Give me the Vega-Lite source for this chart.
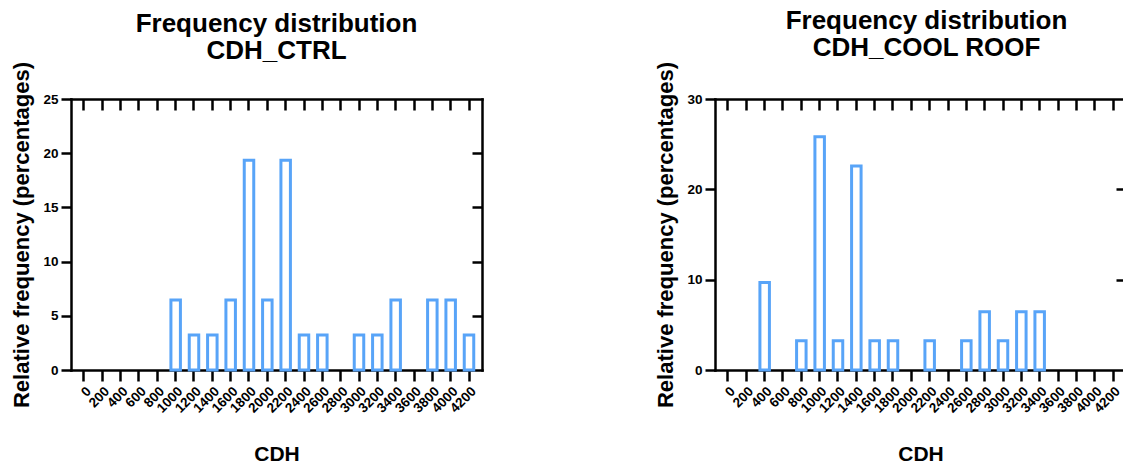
{
  "$schema": "https://vega.github.io/schema/vega-lite/v6.json",
  "padding": {"left": 10, "top": 7, "right": 0, "bottom": 0},
  "spacing": 170,
  "config": {
    "font": "Liberation Sans",
    "view": {"stroke": null},
    "axis": {
      "domainColor": "black", "domainWidth": 2.5, "domainCap": "square",
      "tickColor": "black", "tickWidth": 2.5,
      "labelColor": "black", "labelFontWeight": "bold", "labelFontSize": 13.5,
      "titleColor": "black", "titleFontWeight": "bold",
      "grid": false, "zindex": 1
    },
    "title": {"color": "black", "fontSize": 26, "fontWeight": "bold", "lineHeight": 27.5, "anchor": "middle"}
  },
  "datasets": {
    "ctrl": [
      {"CDH": 0, "pct": 0}, {"CDH": 200, "pct": 0}, {"CDH": 400, "pct": 0}, {"CDH": 600, "pct": 0},
      {"CDH": 800, "pct": 0}, {"CDH": 1000, "pct": 6.45}, {"CDH": 1200, "pct": 3.23}, {"CDH": 1400, "pct": 3.23},
      {"CDH": 1600, "pct": 6.45}, {"CDH": 1800, "pct": 19.35}, {"CDH": 2000, "pct": 6.45}, {"CDH": 2200, "pct": 19.35},
      {"CDH": 2400, "pct": 3.23}, {"CDH": 2600, "pct": 3.23}, {"CDH": 2800, "pct": 0}, {"CDH": 3000, "pct": 3.23},
      {"CDH": 3200, "pct": 3.23}, {"CDH": 3400, "pct": 6.45}, {"CDH": 3600, "pct": 0}, {"CDH": 3800, "pct": 6.45},
      {"CDH": 4000, "pct": 6.45}, {"CDH": 4200, "pct": 3.23}
    ],
    "cool": [
      {"CDH": 0, "pct": 0}, {"CDH": 200, "pct": 0}, {"CDH": 400, "pct": 9.68}, {"CDH": 600, "pct": 0},
      {"CDH": 800, "pct": 3.23}, {"CDH": 1000, "pct": 25.81}, {"CDH": 1200, "pct": 3.23}, {"CDH": 1400, "pct": 22.58},
      {"CDH": 1600, "pct": 3.23}, {"CDH": 1800, "pct": 3.23}, {"CDH": 2000, "pct": 0}, {"CDH": 2200, "pct": 3.23},
      {"CDH": 2400, "pct": 0}, {"CDH": 2600, "pct": 3.23}, {"CDH": 2800, "pct": 6.45}, {"CDH": 3000, "pct": 3.23},
      {"CDH": 3200, "pct": 6.45}, {"CDH": 3400, "pct": 6.45}, {"CDH": 3600, "pct": 0}, {"CDH": 3800, "pct": 0},
      {"CDH": 4000, "pct": 0}, {"CDH": 4200, "pct": 0}
    ]
  },
  "hconcat": [
    {
      "width": 411, "height": 271,
      "title": {"text": ["Frequency distribution", "CDH_CTRL"], "offset": -3},
      "data": {"name": "ctrl"},
      "layer": [
        {
          "mark": {"type": "bar", "opacity": 0},
          "encoding": {
            "x": {"field": "CDH", "type": "ordinal", "scale": {"paddingInner": 0.482, "paddingOuter": 0.45},
                  "axis": {"orient": "top", "labels": false, "title": null, "tickSize": -11, "bandPosition": 0.5}},
            "y": {"field": "pct", "type": "quantitative", "scale": {"domain": [0, 25], "nice": false},
                  "axis": {"orient": "right", "labels": false, "title": null, "values": [5, 10, 15, 20], "tickSize": -10}}
          }
        },
        {
          "transform": [{"filter": "datum.pct > 0"}],
          "mark": {"type": "bar", "fill": "white", "stroke": "#58A4F8", "strokeWidth": 3},
          "encoding": {
            "x": {"field": "CDH", "type": "ordinal",
                  "axis": {"orient": "bottom", "title": "CDH", "titleFontSize": 21, "titlePadding": 29, "labelAngle": -45, "labelOverlap": false, "labelPadding": 3, "tickSize": 11, "bandPosition": 0.5}},
            "y": {"field": "pct", "type": "quantitative",
                  "axis": {"orient": "left", "title": "Relative frequency (percentages)", "titleFontSize": 22, "titlePadding": 9, "values": [0, 5, 10, 15, 20, 25], "tickSize": 10, "labelPadding": 3}}
          }
        }
      ],
      "resolve": {"axis": {"x": "independent", "y": "independent"}}
    },
    {
      "width": 411, "height": 271,
      "title": {"text": ["Frequency distribution", "CDH_COOL ROOF"], "offset": 0, "dx": 6},
      "data": {"name": "cool"},
      "layer": [
        {
          "mark": {"type": "bar", "opacity": 0},
          "encoding": {
            "x": {"field": "CDH", "type": "ordinal", "scale": {"paddingInner": 0.482, "paddingOuter": 0.45},
                  "axis": {"orient": "top", "labels": false, "title": null, "tickSize": -11, "bandPosition": 0.5}},
            "y": {"field": "pct", "type": "quantitative", "scale": {"domain": [0, 30], "nice": false},
                  "axis": {"orient": "right", "labels": false, "title": null, "values": [10, 20], "tickSize": -10}}
          }
        },
        {
          "transform": [{"filter": "datum.pct > 0"}],
          "mark": {"type": "bar", "fill": "white", "stroke": "#58A4F8", "strokeWidth": 3},
          "encoding": {
            "x": {"field": "CDH", "type": "ordinal",
                  "axis": {"orient": "bottom", "title": "CDH", "titleFontSize": 21, "titlePadding": 29, "labelAngle": -45, "labelOverlap": false, "labelPadding": 3, "tickSize": 11, "bandPosition": 0.5}},
            "y": {"field": "pct", "type": "quantitative",
                  "axis": {"orient": "left", "title": "Relative frequency (percentages)", "titleFontSize": 22, "titlePadding": 9, "values": [0, 10, 20, 30], "tickSize": 10, "labelPadding": 3}}
          }
        }
      ],
      "resolve": {"axis": {"x": "independent", "y": "independent"}}
    }
  ]
}
